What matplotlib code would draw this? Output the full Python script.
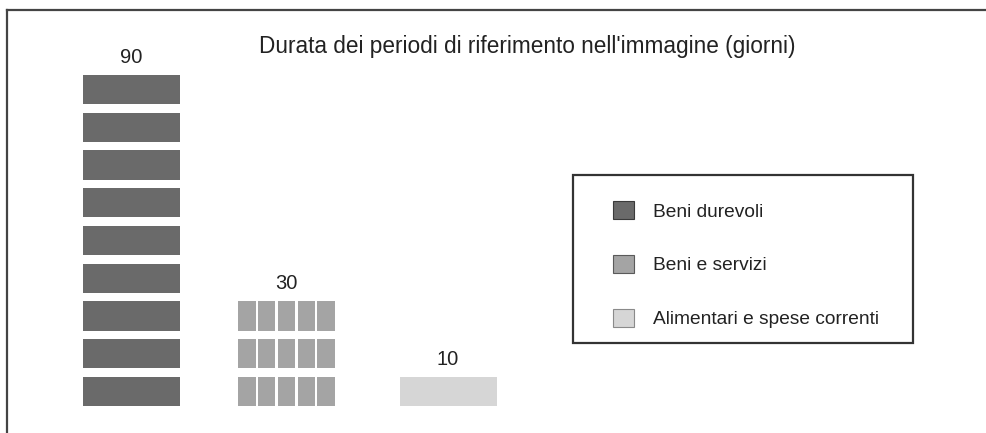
import numpy as np
import matplotlib
matplotlib.use("Agg")
import matplotlib.pyplot as plt
from matplotlib.patches import Rectangle, Patch
from matplotlib.lines import Line2D

plt.rcParams['font.family'] = ['Liberation Sans', 'DejaVu Sans']

# data
categories = ["Beni durevoli", "Beni e servizi", "Alimentari e spese correnti"]
days = [90, 30, 10]
block_days = [10, 2, 10]   # days represented by one small block in each row
title = "Durata dei periodi di riferimento nell'immagine (giorni)"

# style / layout
colors = ["#6a6a6a", "#a4a4a4", "#d6d6d6"]
edges = ["#3a3a3a", "#5a5a5a", "#8a8a8a"]
x_centers = [131.5, 286.5, 448]
bar_w = 97
sub_gap = 2.2
row_h = 7.7      # filled part of each 10-day row
px_per_day = 3.775
W, H = 987, 433
y0_px = 406

fig = plt.figure(figsize=(W / 100, H / 100), dpi=100)
ax = fig.add_axes([0, 0, 1, 1])
ax.set_xlim(0, W)
ax.set_ylim(-(H - y0_px) / px_per_day, y0_px / px_per_day)
ax.axis("off")

for i in range(len(categories)):
    n_rows = days[i] // 10
    n_sub = 10 // block_days[i]
    sub_w = (bar_w - (n_sub - 1) * sub_gap) / n_sub
    left = x_centers[i] - bar_w / 2
    for r in range(n_rows):
        for s in range(n_sub):
            ax.add_patch(Rectangle((left + s * (sub_w + sub_gap), r * 10), sub_w, row_h,
                                   facecolor=colors[i], edgecolor="none"))
    ax.text(x_centers[i], days[i] + 2.4, str(days[i]), ha="center", va="center",
            fontsize=14.5, color="#222222")

fig.text(527 / W, 1 - 47 / H, title, ha="center", va="center", fontsize=16.3, color="#222222")

# outer frame (left and top)
fig.add_artist(Line2D([7 / W, 7 / W], [0, 1 - 10 / H], color="#444444", lw=1.6))
fig.add_artist(Line2D([7 / W, 1], [1 - 10 / H, 1 - 10 / H], color="#444444", lw=1.6))

# legend box
fig.add_artist(Rectangle((573 / W, 1 - 343 / H), (913 - 573) / W, (343 - 175) / H,
                         transform=fig.transFigure, facecolor="none", edgecolor="#333333", lw=1.6))

handles = [Patch(facecolor=colors[i], edgecolor=edges[i], linewidth=0.8) for i in range(3)]
fs = 13.8
px = fs * 100 / 72
leg = fig.legend(handles, categories, loc="upper left",
                 bbox_to_anchor=(613 / W, 1 - 201 / H), borderaxespad=0, borderpad=0,
                 frameon=False, fontsize=fs, handlelength=21 / px,
                 handleheight=21 / px, handletextpad=19 / px,
                 labelspacing=1.78)
for t in leg.get_texts():
    t.set_color("#222222")

fig.savefig("out.png", dpi=100)
